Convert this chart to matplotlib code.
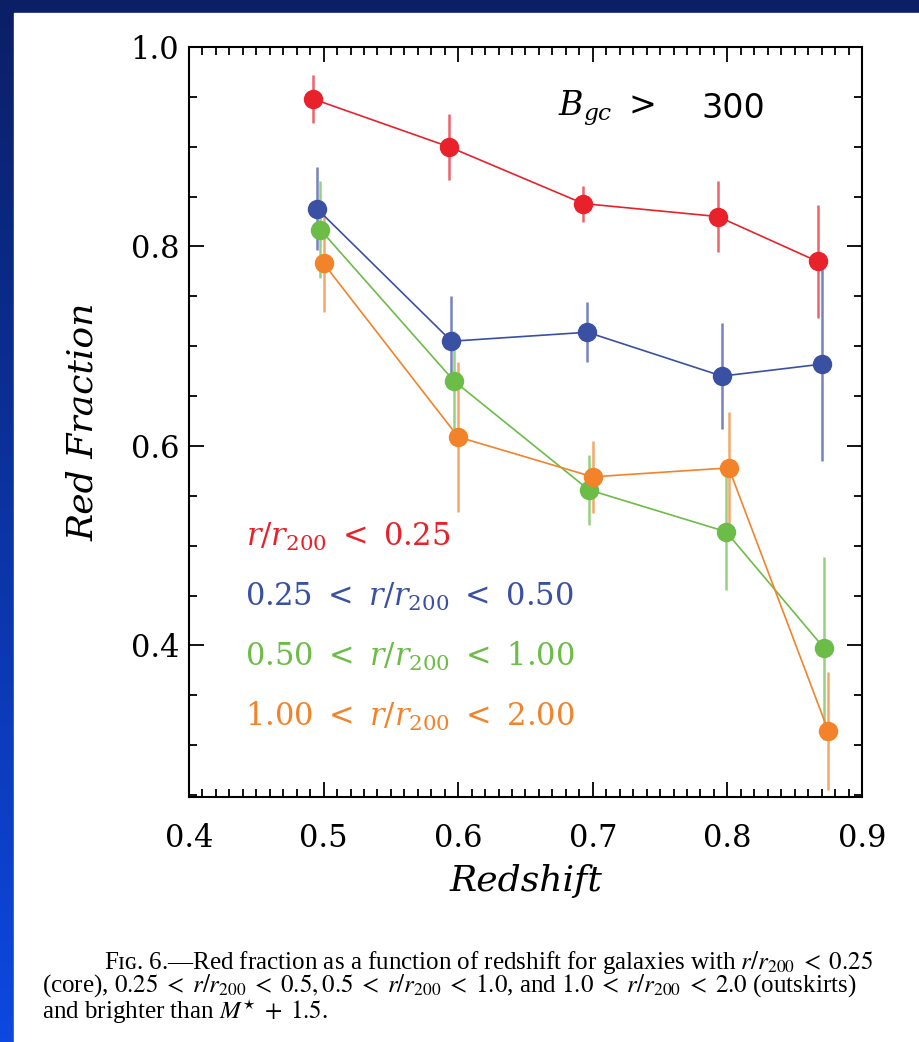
import numpy as np
import matplotlib
matplotlib.use("Agg")
import matplotlib.pyplot as plt
from matplotlib.ticker import MultipleLocator
from matplotlib.patches import Rectangle

# ---- data ----
x_red = [0.492, 0.593, 0.693, 0.793, 0.867]
y_red = [0.948, 0.900, 0.843, 0.830, 0.785]
e_red = [0.024, 0.033, 0.018, 0.036, 0.057]

x_blue = [0.495, 0.595, 0.696, 0.796, 0.870]
y_blue = [0.838, 0.705, 0.714, 0.670, 0.682]
e_blue = [0.042, 0.045, 0.030, 0.053, 0.097]

x_green = [0.4975, 0.597, 0.697, 0.799, 0.872]
y_green = [0.817, 0.665, 0.556, 0.514, 0.397]
e_green = [0.049, 0.050, 0.035, 0.058, 0.092]

x_orange = [0.500, 0.600, 0.700, 0.801, 0.875]
y_orange = [0.783, 0.609, 0.569, 0.578, 0.314]
e_orange = [0.049, 0.075, 0.036, 0.056, 0.059]

labels = [r'$r/r_{\mathit{200}}\ <\ 0.25$',
          r'$0.25\ <\ r/r_{\mathit{200}}\ <\ 0.50$',
          r'$0.50\ <\ r/r_{\mathit{200}}\ <\ 1.00$',
          r'$1.00\ <\ r/r_{\mathit{200}}\ <\ 2.00$']
colors = ['#e8212b', '#3a50a2', '#6bbd47', '#f2832a']

xticks = [0.4, 0.5, 0.6, 0.7, 0.8, 0.9]
yticks = [0.4, 0.6, 0.8, 1.0]

plt.rcParams['mathtext.fontset'] = 'custom'
plt.rcParams['mathtext.rm'] = 'DejaVu Serif'
plt.rcParams['mathtext.it'] = 'DejaVu Serif:italic'
plt.rcParams['mathtext.bf'] = 'DejaVu Serif:bold'
plt.rcParams['font.family'] = ['DejaVu Serif']

fig = plt.figure(figsize=(9.2, 10.42), dpi=100)

# background gradient
bg = fig.add_axes([0, 0, 1, 1], zorder=-10)
grad = np.linspace(0, 1, 256).reshape(-1, 1)
top = np.array([0x0a, 0x1f, 0x66]) / 255
bot = np.array([0x0d, 0x48, 0xe0]) / 255
img = top[None, None, :] * (1 - grad[:, :, None]) + bot[None, None, :] * grad[:, :, None]
bg.imshow(img, aspect='auto', extent=[0, 1, 0, 1], origin='upper')
bg.add_patch(Rectangle((14 / 920, 0), 1, 1 - 13 / 1042, color='white'))
bg.set_xlim(0, 1); bg.set_ylim(0, 1)
bg.axis('off')

ax = fig.add_axes([189 / 920, 1 - 797 / 1042, (862 - 189) / 920, (797 - 47) / 1042])

series = [(x_red, y_red, e_red), (x_blue, y_blue, e_blue),
          (x_green, y_green, e_green), (x_orange, y_orange, e_orange)]
for (xs, ys, es), c in zip(series, colors):
    ax.errorbar(xs, ys, yerr=es, fmt='none', ecolor=c, elinewidth=1.8,
                alpha=0.7, capsize=0, zorder=2)
    ax.plot(xs, ys, '-', color=c, lw=1.2, zorder=3)
    ax.plot(xs, ys, 'o', color=c, ms=14, mec='none', zorder=4)

ax.set_xlim(0.4, 0.9)
ax.set_ylim(0.248, 1.0)
ax.set_xticks(xticks)
ax.set_yticks(yticks)
ax.set_xticklabels([f'{v:.1f}' for v in xticks])
ax.set_yticklabels([f'{v:.1f}' for v in yticks])
ax.xaxis.set_minor_locator(MultipleLocator(0.01))
ax.yaxis.set_minor_locator(MultipleLocator(0.05))
ax.tick_params(which='both', direction='in', top=True, right=True, width=1.3,
               labelsize=22)
ax.tick_params(which='major', length=11)
ax.tick_params(which='minor', length=6)
ax.tick_params(axis='x', pad=19)
ax.tick_params(axis='y', pad=7)
for s in ax.spines.values():
    s.set_linewidth(1.5)

ax.set_xlabel('Redshift', fontsize=26, style='italic', labelpad=7)
ax.set_ylabel('Red Fraction', fontsize=26, style='italic', labelpad=22)

ax.text(0.549, 0.918, r'$B_{gc}\ >$', transform=ax.transAxes, fontsize=24,
        ha='left', va='center')
ax.text(0.762, 0.918, '300', transform=ax.transAxes, fontsize=24,
        ha='left', va='center', family='DejaVu Sans')

ly = [0.347, 0.267, 0.187, 0.108]
for i, (lab, c) in enumerate(zip(labels, colors)):
    ax.text(0.084 if i == 0 else 0.083, ly[i], lab, transform=ax.transAxes,
            color=c, fontsize=22, ha='left', va='center')

# caption
cap_kw = dict(family=['Liberation Serif', 'DejaVu Serif'], color='black',
              math_fontfamily='stix', ha='left', va='baseline')
fs = 18
bg.text(104 / 920, 1 - 969 / 1042,
        r'Fɪɢ. 6.—Red fraction as a function of redshift for galaxies with $r/r_{200}\;<\;0.25$',
        fontsize=fs, transform=bg.transAxes, **cap_kw)
bg.text(42 / 920, 1 - 1019 / 1042,
        r'(core), $0.25\;<\;r/r_{200}\;<\;0.5, 0.5\;<\;r/r_{200}\;<\;1.0$, and $1.0\;<\;r/r_{200}\;<\;2.0$ (outskirts)'
        + '\n' + r'and brighter than $M^{\star}\;+\;1.5$.',
        fontsize=fs, linespacing=0.93, transform=bg.transAxes, **cap_kw)

fig.savefig('out.png', dpi=100)
